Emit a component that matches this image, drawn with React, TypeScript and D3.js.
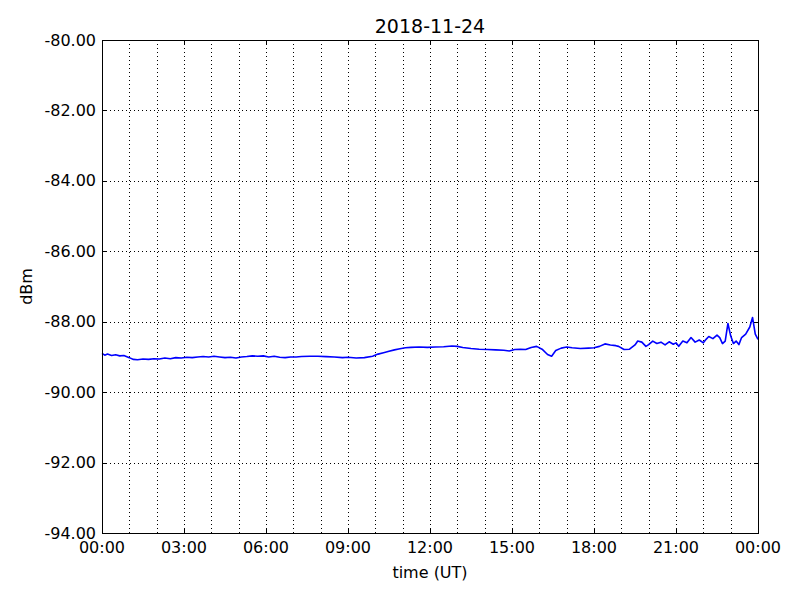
import React from "react";
import * as d3 from "d3";

const hours: number[] = [0.0,0.1,0.2,0.35,0.5,0.65,0.8,1.0,1.15,1.3,1.5,1.7,1.9,2.1,2.3,2.5,2.7,2.9,3.1,3.3,3.5,3.7,3.9,4.1,4.3,4.5,4.7,4.9,5.1,5.3,5.5,5.7,5.9,6.1,6.3,6.5,6.7,6.9,7.1,7.3,7.6,7.9,8.2,8.5,8.8,9.0,9.3,9.6,9.9,10.1,10.3,10.5,10.7,10.9,11.1,11.3,11.6,11.9,12.2,12.5,12.8,13.0,13.2,13.5,13.8,14.1,14.4,14.7,14.9,15.1,15.3,15.5,15.7,15.9,16.1,16.3,16.45,16.6,16.8,17.0,17.2,17.5,17.8,18.0,18.2,18.4,18.6,18.8,18.9,19.1,19.3,19.5,19.6,19.75,19.9,20.0,20.15,20.3,20.45,20.6,20.75,20.9,21.0,21.1,21.25,21.4,21.55,21.7,21.85,22.0,22.1,22.2,22.35,22.5,22.6,22.7,22.8,22.9,23.0,23.1,23.2,23.3,23.4,23.55,23.7,23.8,23.9,24.0];
const dbm: number[] = [-88.90,-88.95,-88.92,-88.96,-88.94,-88.97,-88.96,-89.02,-89.07,-89.08,-89.06,-89.07,-89.05,-89.06,-89.03,-89.05,-89.02,-89.03,-89.01,-89.02,-89.0,-88.99,-89.0,-88.98,-89.0,-89.02,-89.01,-89.03,-89.0,-88.99,-88.97,-88.98,-88.97,-89.0,-88.98,-89.01,-89.02,-89.0,-89.0,-88.99,-88.98,-88.98,-88.99,-89.0,-89.02,-89.01,-89.03,-89.02,-88.98,-88.92,-88.88,-88.84,-88.80,-88.77,-88.74,-88.73,-88.72,-88.73,-88.72,-88.71,-88.69,-88.70,-88.73,-88.76,-88.78,-88.79,-88.80,-88.81,-88.83,-88.79,-88.78,-88.79,-88.73,-88.70,-88.78,-88.93,-88.98,-88.82,-88.75,-88.72,-88.74,-88.76,-88.75,-88.74,-88.70,-88.63,-88.66,-88.68,-88.70,-88.79,-88.78,-88.66,-88.55,-88.58,-88.70,-88.65,-88.55,-88.62,-88.58,-88.66,-88.57,-88.64,-88.60,-88.70,-88.55,-88.60,-88.45,-88.58,-88.52,-88.60,-88.50,-88.42,-88.48,-88.38,-88.45,-88.62,-88.55,-88.05,-88.40,-88.62,-88.55,-88.65,-88.45,-88.35,-88.15,-87.88,-88.35,-88.50];

const yTicks: number[] = [-94, -92, -90, -88, -86, -84, -82, -80];
const xTickHours: number[] = [0, 3, 6, 9, 12, 15, 18, 21, 24];
const xTickLabels: string[] = ["00:00", "03:00", "06:00", "09:00", "12:00", "15:00", "18:00", "21:00", "00:00"];
const gridHours: number[] = d3.range(1, 24);
const title = "2018-11-24";

export default function App() {
  const W = 800, H = 600;
  const L = 102, R = 758, T = 40, B = 533;
  const x = d3.scaleLinear().domain([0, 24]).range([L, R]);
  const y = d3.scaleLinear().domain([-94, -80]).range([B, T]);
  const line = d3.line<number>().x((_, i) => x(hours[i])).y((d) => y(d));
  const font = "DejaVu Sans, sans-serif";
  return (
    <svg width={W} height={H} style={{ position: "absolute", left: 0, top: 0, background: "#fff" }}>
      <rect x={0} y={0} width={W} height={H} fill="#fff" />
      <g stroke="#000" strokeWidth={1} strokeDasharray="1,3" shapeRendering="crispEdges">
        {gridHours.map((h) => (
          <line key={"gx" + h} x1={Math.round(x(h)) + 0.5} x2={Math.round(x(h)) + 0.5} y1={T} y2={B} />
        ))}
        {yTicks.slice(1, -1).map((v) => (
          <line key={"gy" + v} x1={L} x2={R} y1={Math.round(y(v)) + 0.5} y2={Math.round(y(v)) + 0.5} />
        ))}
      </g>
      <path d={line(dbm) || ""} fill="none" stroke="#0000ff" strokeWidth={1.6} strokeLinejoin="round" />
      <g stroke="#000" strokeWidth={1} shapeRendering="crispEdges">
        {xTickHours.map((h) => (
          <g key={"tx" + h}>
            <line x1={Math.round(x(h)) + 0.5} x2={Math.round(x(h)) + 0.5} y1={B} y2={B - 4} />
            <line x1={Math.round(x(h)) + 0.5} x2={Math.round(x(h)) + 0.5} y1={T} y2={T + 4} />
          </g>
        ))}
        {yTicks.map((v) => (
          <g key={"ty" + v}>
            <line x1={L} x2={L + 4} y1={Math.round(y(v)) + 0.5} y2={Math.round(y(v)) + 0.5} />
            <line x1={R} x2={R - 4} y1={Math.round(y(v)) + 0.5} y2={Math.round(y(v)) + 0.5} />
          </g>
        ))}
      </g>
      <rect x={L + 0.5} y={T + 0.5} width={R - L} height={B - T} fill="none" stroke="#000" strokeWidth={1} shapeRendering="crispEdges" />
      <g fontFamily={font} fontSize={16} fill="#000">
        {yTicks.map((v) => (
          <text key={"ly" + v} x={L - 6} y={y(v)} textAnchor="end" dominantBaseline="central">
            {v.toFixed(2)}
          </text>
        ))}
        {xTickHours.map((h, i) => (
          <text key={"lx" + h} x={x(h)} y={B + 20} textAnchor="middle">
            {xTickLabels[i]}
          </text>
        ))}
        <text x={(L + R) / 2} y={578} textAnchor="middle">time (UT)</text>
        <text transform={`translate(32, ${(T + B) / 2}) rotate(-90)`} textAnchor="middle">dBm</text>
        <text x={(L + R) / 2} y={33} textAnchor="middle" fontSize={19}>{title}</text>
      </g>
    </svg>
  );
}
